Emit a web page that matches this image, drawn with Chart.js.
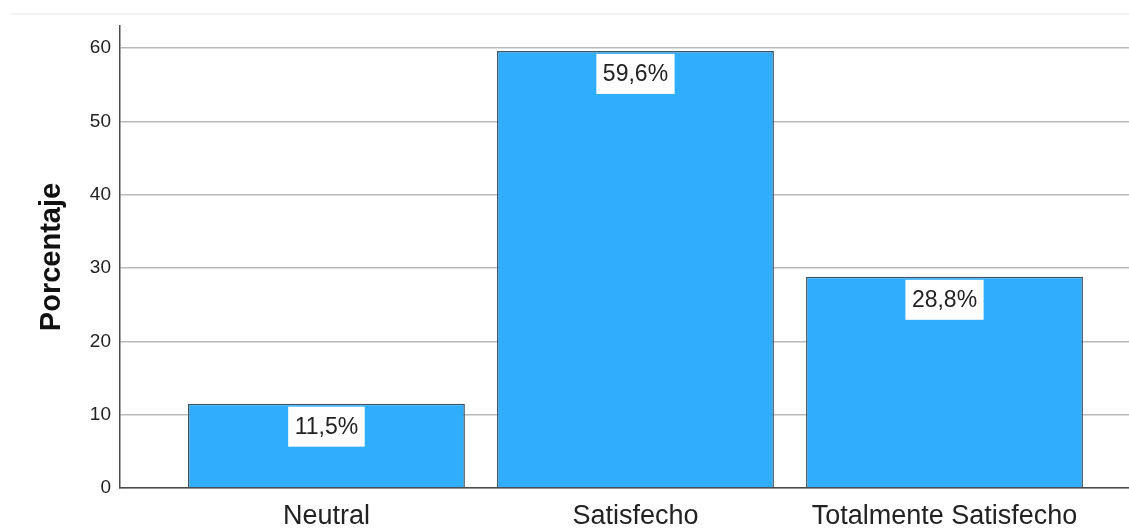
<!DOCTYPE html>
<html>
<head>
<meta charset="utf-8">
<script src="https://cdn.jsdelivr.net/npm/chart.js@4"></script>
<style>
    body { margin: 0; background: #fff; }
    #wrap { position: relative; width: 1129px; height: 528px; }
    #frame { position: absolute; top: 13px; left: 11px; right: 0; height: 2px; background: #f2f2f2; }
</style>
</head>
<body>
<div id="wrap">
    <div id="frame"></div>
    <canvas id="barChart" width="1129" height="528"></canvas>
</div>
<script>
// Chart data
const categories = ['Neutral', 'Satisfecho', 'Totalmente Satisfecho'];
const percentages = [11.5, 59.6, 28.8];
const yTicks = [0, 10, 20, 30, 40, 50, 60];

const FONT = '"Liberation Sans", Arial, sans-serif';

// white value boxes just under the top of each bar
const valueBoxes = {
    id: 'valueBoxes',
    afterDatasetsDraw(chart) {
        const ctx = chart.ctx;
        const meta = chart.getDatasetMeta(0);
        ctx.save();
        ctx.font = '23px ' + FONT;
        ctx.textAlign = 'center';
        ctx.textBaseline = 'middle';
        meta.data.forEach((bar, i) => {
            const text = percentages[i].toFixed(1).replace('.', ',') + '%';
            const w = ctx.measureText(text).width + 13;
            const h = 40;
            const top = bar.y + 3;
            ctx.fillStyle = '#ffffff';
            ctx.fillRect(bar.x - w / 2, top, w, h);
            ctx.fillStyle = '#222222';
            ctx.fillText(text, bar.x, top + h / 2 + 1);
        });
        ctx.restore();
    }
};

new Chart(document.getElementById('barChart'), {
    type: 'bar',
    data: {
        datasets: [{
            data: percentages.map((v, i) => ({ x: i + 1, y: v })),
            backgroundColor: '#31adfe',
            borderColor: '#3c5566',
            borderWidth: 1.5,
            categoryPercentage: 1,
            barPercentage: 0.896
        }]
    },
    options: {
        responsive: false,
        animation: false,
        layout: { padding: { top: 26, right: 0, left: 0, bottom: 0 } },
        plugins: {
            legend: { display: false },
            tooltip: { enabled: false }
        },
        scales: {
            x: {
                type: 'linear',
                offset: false,
                bounds: 'data',
                min: 0.332,
                max: 3.597,
                afterBuildTicks: (axis) => {
                    axis.ticks = categories.map((c, i) => ({ value: i + 1 }));
                },
                afterFit: (axis) => { axis.height = 40; },
                grid: { display: true, offset: false, color: 'transparent', drawTicks: false },
                border: { display: true, color: '#4a4a4a', width: 1.5 },
                ticks: {
                    autoSkip: false,
                    maxRotation: 0,
                    padding: 12,
                    color: '#222222',
                    font: { family: FONT, size: 27 },
                    callback: (v) => categories[v - 1]
                }
            },
            y: {
                min: 0,
                max: 63,
                afterBuildTicks: (axis) => {
                    axis.ticks = yTicks.map(v => ({ value: v }));
                },
                afterFit: (axis) => { axis.width = 120; },
                grid: { color: '#b9b9b9', lineWidth: 1.5, drawTicks: false },
                border: { display: true, color: '#4a4a4a', width: 1.5 },
                ticks: {
                    padding: 9,
                    color: '#222222',
                    font: { family: FONT, size: 19 }
                },
                title: {
                    display: true,
                    text: 'Porcentaje',
                    color: '#111111',
                    padding: { top: 35 },
                    font: { family: FONT, size: 29, weight: 'bold' }
                }
            }
        }
    },
    plugins: [valueBoxes]
});
</script>
</body>
</html>
